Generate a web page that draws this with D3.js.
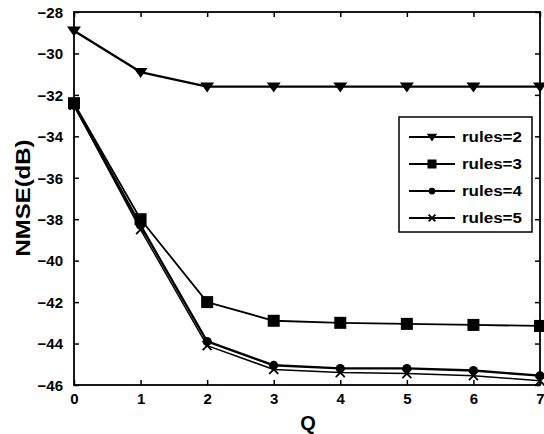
<!DOCTYPE html>
<html>
<head>
<meta charset="utf-8">
<script src="https://cdn.jsdelivr.net/npm/d3@7/dist/d3.min.js"></script>
<style>
  html, body { margin: 0; padding: 0; background: #fff; }
  svg text { font-family: "Liberation Sans", Arial, sans-serif; font-weight: bold; fill: #000; }
</style>
</head>
<body>
<svg id="chart" width="544" height="434"></svg>
<script>
// NMSE (dB) versus Q for different numbers of fuzzy rules
const qValues = [0, 1, 2, 3, 4, 5, 6, 7];
const rules2 = [-28.9, -30.9, -31.6, -31.6, -31.6, -31.6, -31.6, -31.6];
const rules3 = [-32.4, -38.0, -42.0, -42.9, -43.0, -43.05, -43.1, -43.15];
const rules4 = [-32.5, -38.3, -43.9, -45.05, -45.2, -45.2, -45.3, -45.55];
const rules5 = [-32.5, -38.5, -44.1, -45.25, -45.4, -45.45, -45.55, -45.8];
const seriesNames = ["rules=2", "rules=3", "rules=4", "rules=5"];
const xTicks = [0, 1, 2, 3, 4, 5, 6, 7];
const yTicks = [-46, -44, -42, -40, -38, -36, -34, -32, -30, -28];

const svg = d3.select("#chart");
const plot = { left: 74, right: 540, top: 12, bottom: 385 };

const x = d3.scaleLinear().domain([0, 7]).range([plot.left, plot.right]);
const y = d3.scaleLinear().domain([-46, -28]).range([plot.bottom, plot.top]);

const series = [
  { name: seriesNames[0], values: rules2, marker: "tri", width: 2.4 },
  { name: seriesNames[1], values: rules3, marker: "square", width: 1.8 },
  { name: seriesNames[2], values: rules4, marker: "circle", width: 2.4 },
  { name: seriesNames[3], values: rules5, marker: "cross", width: 1.5 }
];

// Box frame
svg.append("rect")
  .attr("x", plot.left).attr("y", plot.top)
  .attr("width", plot.right - plot.left).attr("height", plot.bottom - plot.top)
  .attr("fill", "none").attr("stroke", "#000").attr("stroke-width", 1.8);

// Axes with inward ticks
const tickLen = 5;
const xAxisB = svg.append("g").attr("transform", `translate(0,${plot.bottom})`)
  .call(d3.axisBottom(x).tickValues(xTicks).tickFormat(d3.format("d")).tickSize(-tickLen).tickPadding(8));
const xAxisT = svg.append("g").attr("transform", `translate(0,${plot.top})`)
  .call(d3.axisTop(x).tickValues(xTicks).tickFormat("").tickSize(-tickLen));
const yAxisL = svg.append("g").attr("transform", `translate(${plot.left},0)`)
  .call(d3.axisLeft(y).tickValues(yTicks).tickFormat(d3.format("d")).tickSize(-tickLen).tickPadding(11));
const yAxisR = svg.append("g").attr("transform", `translate(${plot.right},0)`)
  .call(d3.axisRight(y).tickValues(yTicks).tickFormat("").tickSize(-tickLen));

[xAxisB, xAxisT, yAxisL, yAxisR].forEach(g => {
  g.select(".domain").remove();
  g.selectAll(".tick line").attr("stroke", "#000").attr("stroke-width", 1.5);
  g.selectAll(".tick text").style("font-size", "15px").attr("fill", "#000");
});
yAxisL.selectAll(".tick text").attr("dy", "0.35em");

// Marker drawing
function drawMarker(g, type, cx, cy, k = 1) {
  if (type === "tri") {
    const s = 7 * k;
    g.append("path")
      .attr("d", `M${cx - s},${cy - s * 0.6} L${cx + s},${cy - s * 0.6} L${cx},${cy + s * 0.85} Z`)
      .attr("fill", "#000");
  } else if (type === "square") {
    const s = 6 * k;
    g.append("rect").attr("x", cx - s).attr("y", cy - s)
      .attr("width", 2 * s).attr("height", 2 * s).attr("fill", "#000");
  } else if (type === "circle") {
    g.append("circle").attr("cx", cx).attr("cy", cy).attr("r", 4.5 * k).attr("fill", "#000");
  } else if (type === "cross") {
    const s = 4.5 * k;
    g.append("path")
      .attr("d", `M${cx - s},${cy - s} L${cx + s},${cy + s} M${cx - s},${cy + s} L${cx + s},${cy - s}`)
      .attr("stroke", "#000").attr("stroke-width", 1.8);
  }
}

const line = d3.line().x((d, i) => x(qValues[i])).y(d => y(d));

series.forEach(s => {
  const g = svg.append("g");
  g.append("path").datum(s.values)
    .attr("d", line).attr("fill", "none")
    .attr("stroke", "#000").attr("stroke-width", s.width)
    .attr("stroke-linejoin", "round");
  s.values.forEach((v, i) => drawMarker(g, s.marker, x(qValues[i]), y(v)));
});

// Legend
const legend = svg.append("g");
const lx = 399, ly = 117, lw = 133, lh = 115;
legend.append("rect").attr("x", lx).attr("y", ly).attr("width", lw).attr("height", lh)
  .attr("fill", "#fff").attr("stroke", "#000").attr("stroke-width", 1.5);
series.forEach((s, i) => {
  const yy = ly + 20 + i * 27;
  legend.append("line").attr("x1", lx + 10).attr("x2", lx + 56)
    .attr("y1", yy).attr("y2", yy).attr("stroke", "#000").attr("stroke-width", 1.8);
  drawMarker(legend, s.marker, lx + 33, yy, 0.75);
  legend.append("text").attr("x", lx + 63).attr("y", yy).attr("dy", "0.35em")
    .attr("textLength", 60).attr("lengthAdjust", "spacingAndGlyphs")
    .style("font-size", "14px").text(s.name);
});

// Axis titles
svg.append("text").attr("x", 308).attr("y", 430)
  .attr("text-anchor", "middle").style("font-size", "20px").text("Q");
svg.append("text")
  .attr("transform", `translate(30,198) rotate(-90)`)
  .attr("text-anchor", "middle")
  .attr("textLength", 117).attr("lengthAdjust", "spacingAndGlyphs")
  .style("font-size", "21px").text("NMSE(dB)");
</script>
</body>
</html>
